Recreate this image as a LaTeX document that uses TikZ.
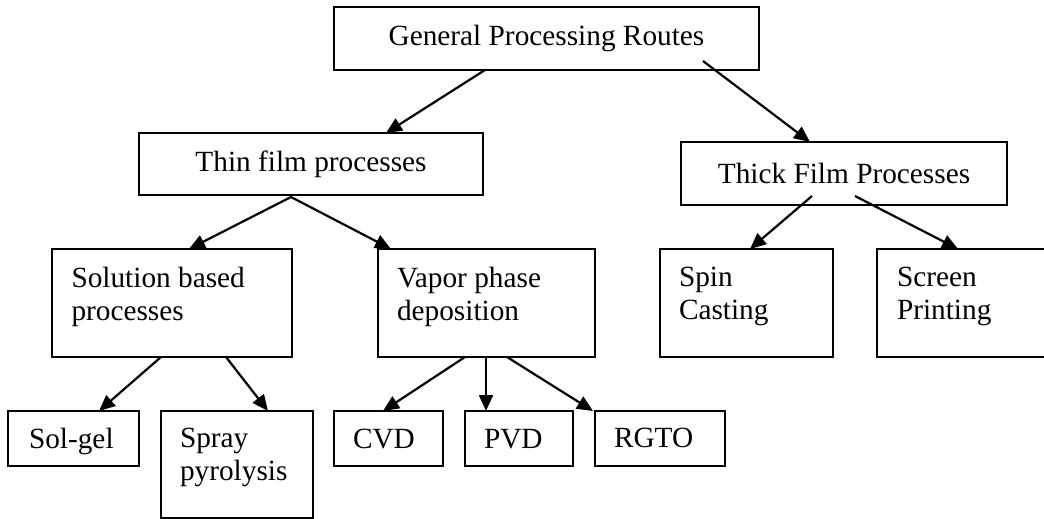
\documentclass[tikz,border=0pt]{standalone}
\usepackage{fontspec}
\setmainfont{Liberation Serif}
\usetikzlibrary{arrows.meta}
\tikzset{
  every node/.style={font=\fontsize{29.3}{33.5}\selectfont},
  box/.style={draw=black, line width=2pt, rectangle, inner sep=0pt, outer sep=0pt, anchor=north west},
  txt/.style={inner sep=0pt, outer sep=0pt, align=left},
  arr/.style={line width=2.2pt, -{Triangle[length=16pt 0 0,width=14pt 0 0]}},
}
\begin{document}
\begin{tikzpicture}[x=1pt,y=-1pt]
\useasboundingbox (0,0) rectangle (1044,519);
% level 0
\node[box, minimum width=425pt, minimum height=63pt] (gpr) at (334,7) {General Processing Routes};
% level 1
\node[box, minimum width=344pt, minimum height=62pt] (thin) at (139,133) {Thin film processes};
\node[box, minimum width=326pt, minimum height=63pt] (thick) at (681,142) {Thick Film Processes};
% level 2
\node[box, minimum width=240pt, minimum height=108pt] (sol) at (52,249) {};
\node[txt, anchor=north west] (solt) at (71.5,267) {Solution based\\processes};
\node[box, minimum width=217pt, minimum height=108pt] (vap) at (378,249) {};
\node[txt, anchor=north west] (vapt) at (397,267) {Vapor phase\\deposition};
\node[box, minimum width=173pt, minimum height=108pt] (spin) at (660,249) {};
\node[txt, anchor=north west] (spint) at (679,267) {Spin\\Casting};
\node[box, minimum width=173pt, minimum height=108pt] (scr) at (877,249) {};
\node[txt, anchor=north west] (scrt) at (897,267) {Screen\\Printing};
% level 3
\node[box, minimum width=131pt, minimum height=55pt] (solgel) at (8,411) {};
\node[txt, anchor=base west] (solgelt) at (29,448) {Sol-gel};
\node[box, minimum width=152pt, minimum height=107pt] (spray) at (161,411) {};
\node[txt, anchor=north west] (sprayt) at (180,428) {Spray\\pyrolysis};
\node[box, minimum width=109pt, minimum height=55pt] (cvd) at (334,411) {};
\node[txt, anchor=base west] (cvdt) at (353,448) {CVD};
\node[box, minimum width=108pt, minimum height=55pt] (pvd) at (465,411) {};
\node[txt, anchor=base west] (pvdt) at (484,448) {PVD};
\node[box, minimum width=130pt, minimum height=55pt] (rgto) at (595,411) {};
\node[txt, anchor=base west] (rgtot) at (614,447) {RGTO};
% connectors
\draw[arr] ([xshift=151pt]gpr.south west) -- ([xshift=247pt]thin.north west);
\draw[arr] ([xshift=369pt,yshift=9pt]gpr.south west) -- ([xshift=129pt]thick.north west);
\draw[arr] ([xshift=152pt,yshift=-2pt]thin.south west) -- ([xshift=137pt]sol.north west);
\draw[arr] ([xshift=152pt,yshift=-2pt]thin.south west) -- ([xshift=13pt]vap.north west);
\draw[arr] ([xshift=131pt,yshift=9pt]thick.south west) -- ([xshift=90pt]spin.north west);
\draw[arr] ([xshift=174pt,yshift=9pt]thick.south west) -- ([xshift=81pt]scr.north west);
\draw[arr] ([xshift=109pt]sol.south west) -- ([xshift=91pt]solgel.north west);
\draw[arr] ([xshift=174pt]sol.south west) -- ([xshift=107pt]spray.north west);
\draw[arr] ([xshift=87pt]vap.south west) -- ([xshift=49pt]cvd.north west);
\draw[arr] ([xshift=108pt]vap.south west) -- ([xshift=21pt]pvd.north west);
\draw[arr] ([xshift=129pt]vap.south west) -- ([xshift=-2pt]rgto.north west);
\end{tikzpicture}
\end{document}
